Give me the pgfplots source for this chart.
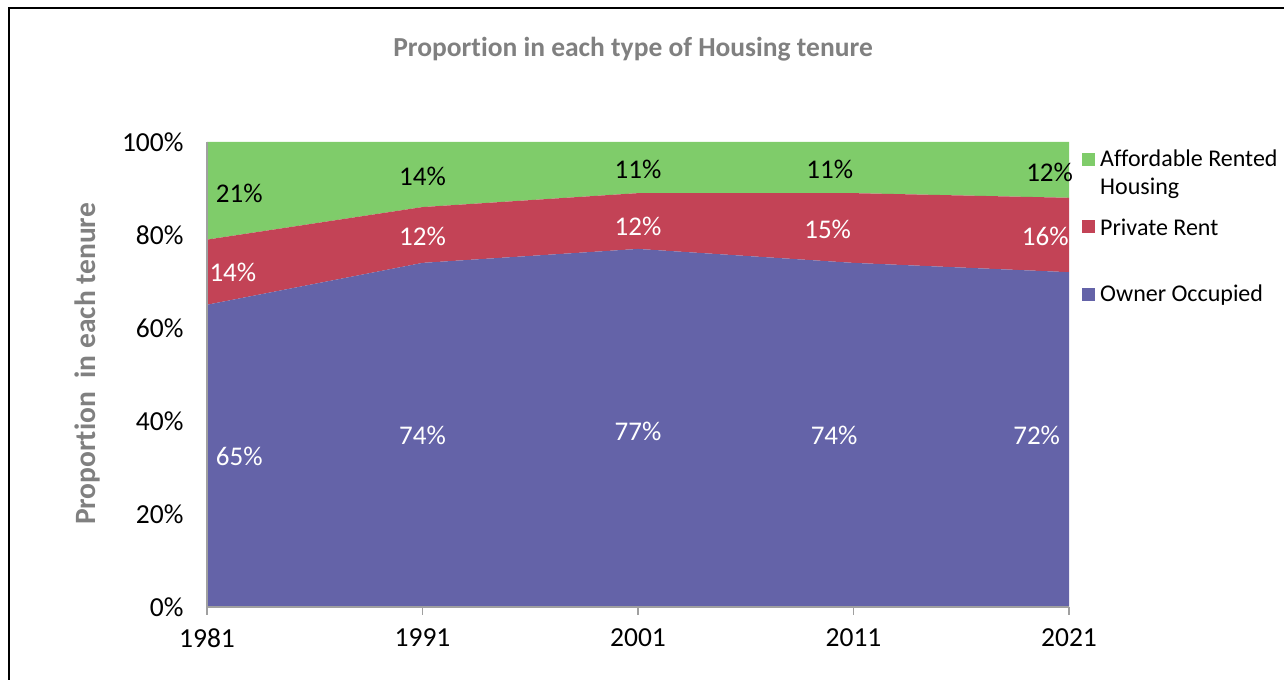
\documentclass[border=0pt]{standalone}
\usepackage{pgfplots}
\pgfplotsset{compat=1.18}
\usepackage{pgfplotstable}
\usepackage{fontspec}
\setmainfont{Carlito}[Ligatures={NoCommon}]
\definecolor{affgreen}{RGB}{127,204,106}
\definecolor{privred}{RGB}{195,67,86}
\definecolor{ownpurple}{RGB}{100,99,168}
\definecolor{titlegray}{RGB}{128,128,128}
\definecolor{axgray}{RGB}{160,160,160}

\pgfplotstableread{
year owner private affordable
1981 65 14 21
1991 74 12 14
2001 77 12 11
2011 74 15 11
2021 72 16 12
}\tenure

\pgfplotstableread{
x y label
1982.5 89.0 21\%
1991.0 92.5 14\%
2001.0 94.0 11\%
2009.9 94.0 11\%
2020.1 93.5 12\%
}\greenlabels

\pgfplotstableread{
x y label
1982.2 72.0 14\%
1991.0 79.6 12\%
2001.0 81.9 12\%
2009.8 81.3 15\%
2019.9 79.8 16\%
}\redlabels

\pgfplotstableread{
x y label
1982.5 32.3 65\%
1991.0 36.8 74\%
2001.0 37.8 77\%
2010.1 36.8 74\%
2019.5 36.8 72\%
}\purplelabels

\begin{document}
\begin{tikzpicture}[x=1bp,y=1bp]
\useasboundingbox (0,0) rectangle (1284,680);
\draw[line width=2bp] (9,0) -- (9,672) -- (1284,672);

\pgfplotsset{common/.style={
  at={(207bp,73bp)}, anchor=south west, scale only axis,
  width=862bp, height=465bp,
  xmin=1981, xmax=2021, ymin=0, ymax=100,
}}

\begin{axis}[common,
  stack plots=y,
  axis x line*=bottom, axis y line*=left,
  axis line style={draw=axgray, line width=1.2bp, -},
  xtick={1981,1991,2001,2011,2021},
  xticklabels={1981,1991,2001,2011,2021},
  ytick={0,20,40,60,80,100},
  yticklabels={0\%,20\%,40\%,60\%,80\%,100\%},
  tick align=outside,
  xtick style={draw=axgray, line width=1.2bp},
  ytick style={draw=none},
  major tick length=8bp,
  tick label style={font=\fontsize{27.5bp}{32bp}\selectfont},
  xticklabel style={yshift=-10bp},
  yticklabel style={xshift=-12bp},
  axis on top,
]
\addplot[fill=ownpurple, draw=none] table[x=year, y=owner] {\tenure} \closedcycle;
\addplot[fill=privred, draw=none] table[x=year, y=private] {\tenure} \closedcycle;
\addplot[fill=affgreen, draw=none] table[x=year, y=affordable] {\tenure} \closedcycle;
\end{axis}

\begin{axis}[common, hide axis]
\addplot[draw=none, mark=none, nodes near coords, point meta=explicit symbolic,
  nodes near coords style={anchor=center, text=black, font=\fontsize{27bp}{32bp}\selectfont}]
  table[x=x, y=y, meta=label] {\greenlabels};
\addplot[draw=none, mark=none, nodes near coords, point meta=explicit symbolic,
  nodes near coords style={anchor=center, text=white, font=\fontsize{27bp}{32bp}\selectfont}]
  table[x=x, y=y, meta=label] {\redlabels};
\addplot[draw=none, mark=none, nodes near coords, point meta=explicit symbolic,
  nodes near coords style={anchor=center, text=white, font=\fontsize{27bp}{32bp}\selectfont}]
  table[x=x, y=y, meta=label] {\purplelabels};
\end{axis}

% title and y label
\node[font=\bfseries\fontsize{27.5bp}{32bp}\selectfont, text=titlegray] at (633,631) {Proportion in each type of Housing tenure};
\node[font=\bfseries\fontsize{29.5bp}{34bp}\selectfont, text=titlegray, rotate=90] at (87,316) {Proportion\ \ in each tenure};

% legend
\fill[affgreen] (1082,513.5) rectangle (1095,526.5);
\node[anchor=west, align=left, inner sep=0pt, font=\fontsize{24bp}{28bp}\selectfont] at (1100,506) {Affordable Rented\\Housing};
\fill[privred] (1082,446.5) rectangle (1095,459.5);
\node[anchor=west, inner sep=0pt, font=\fontsize{24bp}{28bp}\selectfont] at (1100,453) {Private Rent};
\fill[ownpurple] (1082,378.5) rectangle (1095,391.5);
\node[anchor=west, inner sep=0pt, font=\fontsize{24bp}{28bp}\selectfont] at (1100,385) {Owner Occupied};
\end{tikzpicture}
\end{document}
